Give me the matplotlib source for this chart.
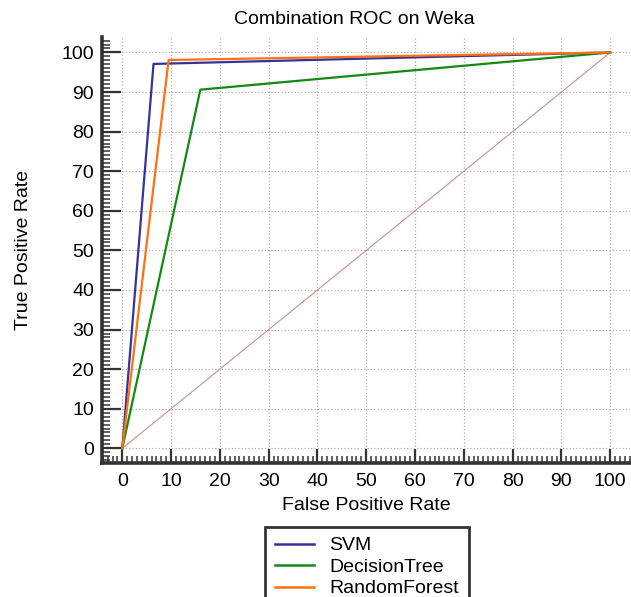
"""ROC curves of three Weka classifiers"""
import matplotlib
matplotlib.use('Agg')
import matplotlib.pyplot as plt
from matplotlib.ticker import MultipleLocator

plt.rcParams['font.family'] = ['Liberation Sans', 'DejaVu Sans']

# false positive rate / true positive rate, in percent
svm_fpr = [0, 6.4, 100]
svm_tpr = [0, 97.1, 100]
tree_fpr = [0, 16.0, 100]
tree_tpr = [0, 90.6, 100]
forest_fpr = [0, 9.5, 100]
forest_tpr = [0, 98.1, 100]
diag = [0, 100]
ticks = list(range(0, 101, 10))

fig = plt.figure(figsize=(6.31, 5.97), dpi=100)
ax = fig.add_axes([0.1624, 0.2245, 0.8356, 0.7135])

ax.plot(diag, diag, c='#c89090', lw=0.8, zorder=2)
ax.plot(svm_fpr, svm_tpr, c='#333399', lw=1.6, label='SVM', zorder=3)
ax.plot(tree_fpr, tree_tpr, c='#128a12', lw=1.6, label='DecisionTree', zorder=3)
ax.plot(forest_fpr, forest_tpr, c='#ff7010', lw=1.6, label='RandomForest', zorder=4)

ax.set_xlim(-4.06, 104)
ax.set_ylim(-3.7, 103.9)
ax.set_xticks(ticks)
ax.set_yticks(ticks)
ax.xaxis.set_minor_locator(MultipleLocator(1))
ax.yaxis.set_minor_locator(MultipleLocator(1))
ax.grid(True, which='major', ls=':', c='#b0b0b0', lw=0.9)

for side in ['top', 'right']:
    ax.spines[side].set_visible(False)
for side in ['left', 'bottom']:
    ax.spines[side].set_linewidth(2.6)
    ax.spines[side].set_color('#333333')

ax.tick_params(axis='y', which='major', direction='in', length=14, width=1.6,
               pad=6, labelsize=14, color='#333333')
ax.tick_params(axis='y', which='minor', direction='in', length=6, width=1.1, color='#333333')
ax.tick_params(axis='x', which='major', direction='in', length=10, width=1.6,
               pad=7, labelsize=14, color='#333333')
ax.tick_params(axis='x', which='minor', direction='in', length=5, width=1.1, color='#333333')

ax.set_xlabel('False Positive Rate', fontsize=14, labelpad=5)
ax.set_ylabel('True Positive Rate', fontsize=14, labelpad=21)
fig.text(354 / 631, 1 - 19 / 597, 'Combination ROC on Weka', fontsize=14,
         ha='center', va='center')

leg = fig.legend(loc='upper left', bbox_to_anchor=(265 / 631, 1 - 527 / 597),
                 borderaxespad=0, fontsize=14, handlelength=2.0, handletextpad=0.8,
                 borderpad=0.5, labelspacing=0.2, fancybox=False,
                 edgecolor='#333333', framealpha=1)
leg.get_frame().set_linewidth(2.0)
for line in leg.get_lines():
    line.set_linewidth(1.8)

fig.savefig('out.png', dpi=100)
